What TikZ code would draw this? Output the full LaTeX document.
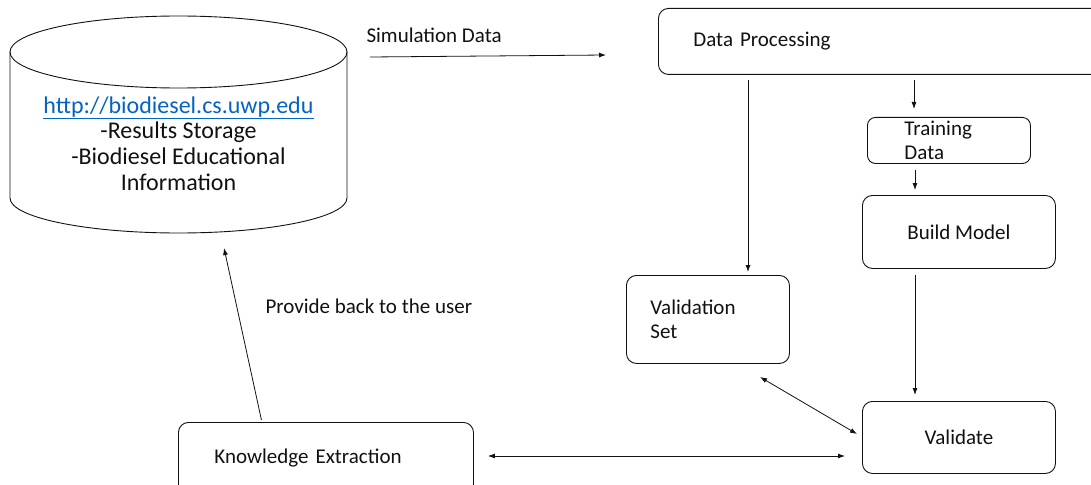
\documentclass[tikz,border=0pt]{standalone}
\usepackage{fontspec}
\setmainfont{Carlito}
\usetikzlibrary{arrows.meta}
\definecolor{linkblue}{HTML}{0563C1}
\definecolor{ink}{HTML}{111111}
\begin{document}
\begin{tikzpicture}[x=1pt,y=-1pt,
  every node/.style={text=ink},
  txt/.style={font=\fontsize{21}{23.5}\selectfont},
  box/.style={draw=ink, line width=0.9pt, rounded corners=10pt, txt, anchor=north west, inner ysep=0pt},
  arr/.style={draw=ink, line width=0.8pt, -{Latex[length=7pt,width=5pt]}},
  darr/.style={draw=ink, line width=0.8pt, {Latex[length=7pt,width=5pt]}-{Latex[length=7pt,width=5pt]}}]
\useasboundingbox (0,0) rectangle (1091,484);

% database cylinder
\draw[ink, line width=0.9pt] (178.5,52) ellipse [x radius=168.5pt, y radius=36pt];
\draw[ink, line width=0.9pt] (10,52) -- (10,198) arc[start angle=180, end angle=360, x radius=168.5pt, y radius=35pt] -- (347,52);
\node[align=center, font=\fontsize{24}{25.7}\selectfont] (db) at (178.5,143.5)
  {\textcolor{linkblue}{\underline{http://biodiesel.cs.uwp.edu}}\\-Results Storage\\-Biodiesel Educational\\Information};
\coordinate (dbin) at (224,248);

% boxes
\node[box, minimum width=460pt, minimum height=66pt, text width=390pt, inner xsep=35pt, align=left] (dp) at (658,8) {Data Processing};
\node[box, rounded corners=8pt, minimum width=163pt, minimum height=46pt, text width=89pt, inner xsep=37pt, align=left] (td) at (867,117) {Training\\Data};
\node[box, minimum width=193pt, minimum height=73pt, align=center] (bm) at (862,195) {Build Model};
\node[box, minimum width=163pt, minimum height=88pt, text width=115pt, inner xsep=24pt, align=left] (vs) at (626,275) {Validation\\Set};
\node[box, minimum width=193pt, minimum height=72pt, align=center] (va) at (862,401) {Validate};
\node[box, minimum width=295pt, minimum height=72pt, text width=223pt, inner xsep=36pt, align=left] (ke) at (178,422) {Knowledge Extraction};

% labels
\node[txt, anchor=west] (lsim) at (363,35) {Simulation Data};
\node[txt, anchor=west] (lprov) at (262,306) {Provide back to the user};

% connectors
\coordinate (simA) at (370,57);
\coordinate (simB) at (606,55);
\draw[arr] (simA) -- (simB);
\draw[arr] ([yshift=-5pt]dp.south -| 748,0) -- ([yshift=3pt]vs.north -| 748,0);
\draw[arr] ([yshift=-5pt]dp.south -| 914,0) -- ([yshift=8pt]td.north -| 914,0);
\draw[arr] ([yshift=-6pt]td.south -| 915,0) -- ([yshift=5pt]bm.north -| 915,0);
\draw[arr] ([yshift=-6pt]bm.south -| 915,0) -- ([yshift=6pt]va.north -| 915,0);
\coordinate (vsd) at (760,377);
\coordinate (vad) at (857,434);
\draw[darr] (vsd) -- (vad);
\draw[darr] ([xshift=14pt]ke.east |- 0,456) -- ([xshift=-17pt]va.west |- 0,456);
\draw[arr] ([shift={(-64.5pt,2pt)}]ke.north) -- (dbin);
\end{tikzpicture}
\end{document}
